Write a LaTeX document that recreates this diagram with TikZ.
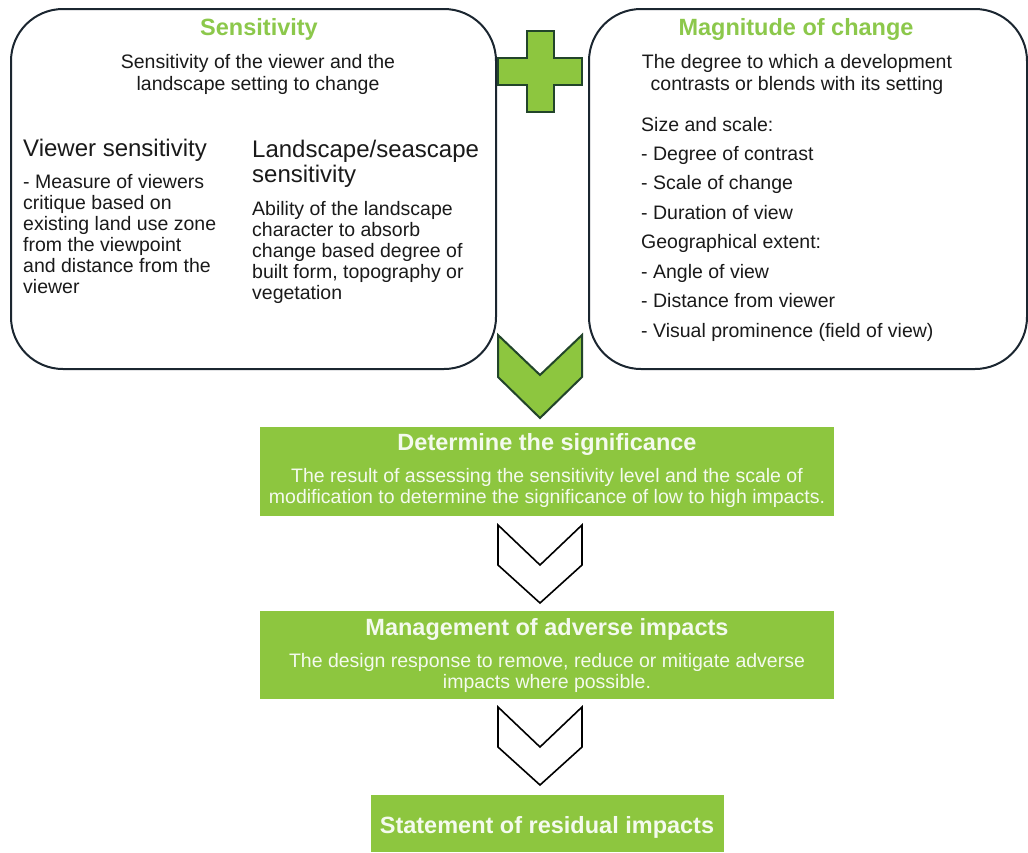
\documentclass[tikz,border=0pt]{standalone}
\usepackage{fontspec}
\setmainfont{Liberation Sans}
\definecolor{grn}{HTML}{8DC63F}
\definecolor{grntxt}{HTML}{8CC84B}
\definecolor{dkgrn}{HTML}{22452A}
\definecolor{edge}{HTML}{1B2630}
\definecolor{txt}{HTML}{1A1A1A}
\definecolor{wtxt}{HTML}{F4FAEE}
\tikzset{
 body/.style={font=\fontsize{19.5}{21}\selectfont, text=txt, inner sep=0pt},
 sub/.style={font=\fontsize{24}{26}\selectfont, text=txt, inner sep=0pt},
 gtitle/.style={font=\bfseries\fontsize{23.5}{25}\selectfont, text=grntxt, inner sep=0pt},
 wtitle/.style={font=\bfseries\fontsize{23.5}{25}\selectfont, text=wtxt, inner sep=0pt},
 wbody/.style={font=\fontsize{19.5}{21}\selectfont, text=wtxt, inner sep=0pt},
 panel/.style={draw=edge, line width=2pt, rounded corners=52pt, fill=white, inner sep=0pt},
 gbox/.style={fill=grn, draw=none, inner sep=0pt},
 gchev/.style={fill=grn, draw=dkgrn, line width=2pt, line join=miter},
 wchev/.style={fill=white, draw=black, line width=1.6pt, line join=miter},
}
\begin{document}
\begin{tikzpicture}[x=1pt,y=-1pt]
\useasboundingbox (0,0) rectangle (1028,852);
\fill[white] (0,0) rectangle (1028,852);

% panels
\node[panel, minimum width=485pt, minimum height=360pt, anchor=north west] (sens) at (10,8) {};
\node[panel, minimum width=438pt, minimum height=360pt, anchor=north west] (mag) at (588,8) {};

% plus sign
\draw[gchev] (527,31) -- (554,31) -- (554,58) -- (582,58) -- (582,85) -- (554,85) -- (554,112)
  -- (527,112) -- (527,85) -- (498,85) -- (498,58) -- (527,58) -- cycle;

% green chevron
\draw[gchev] (498,335) -- (540,375) -- (582,335) -- (582,377) -- (540,418) -- (498,377) -- cycle;

% green boxes
\node[gbox, minimum width=574pt, minimum height=89pt, anchor=north west] (det) at (260,427) {};
\node[gbox, minimum width=574pt, minimum height=88pt, anchor=north west] (man) at (260,611) {};
\node[gbox, minimum width=353pt, minimum height=57pt, anchor=north west] (sta) at (371,795) {};

% white chevrons
\draw[wchev] (498,525) -- (540,565) -- (582,525) -- (582,565) -- (540,603) -- (498,565) -- cycle;
\draw[wchev] (498,707) -- (540,747) -- (582,707) -- (582,747) -- (540,785) -- (498,747) -- cycle;

% Sensitivity panel text
\node[gtitle, anchor=base] (st) at (259,35) {Sensitivity};
\node[body, anchor=base] (s1) at (258,68) {Sensitivity of the viewer and the};
\node[body, anchor=base] (s2) at (258,90) {landscape setting to change};
\node[sub, anchor=base west] (vs) at (23,156) {Viewer sensitivity};
\node[body, anchor=base west] (v1) at (23,188) {- Measure of viewers};
\node[body, anchor=base west] (v2) at (23,209) {critique based on};
\node[body, anchor=base west] (v3) at (23,230) {existing land use zone};
\node[body, anchor=base west] (v4) at (23,251) {from the viewpoint};
\node[body, anchor=base west] (v5) at (23,272) {and distance from the};
\node[body, anchor=base west] (v6) at (23,293) {viewer};
\node[sub, anchor=base west] (ls1) at (252,157) {Landscape/seascape};
\node[sub, anchor=base west] (ls2) at (252,182) {sensitivity};
\node[body, anchor=base west] (a1) at (252,215) {Ability of the landscape};
\node[body, anchor=base west] (a2) at (252,236) {character to absorb};
\node[body, anchor=base west] (a3) at (252,257) {change based degree of};
\node[body, anchor=base west] (a4) at (252,278) {built form, topography or};
\node[body, anchor=base west] (a5) at (252,299) {vegetation};

% Magnitude panel text
\node[gtitle, anchor=base] (mt) at (796,35) {Magnitude of change};
\node[body, anchor=base] (m1) at (797,68) {The degree to which a development};
\node[body, anchor=base] (m2) at (797,90) {contrasts or blends with its setting};
\node[body, anchor=base west] (k1) at (641,131) {Size and scale:};
\node[body, anchor=base west] (k2) at (641,160) {- Degree of contrast};
\node[body, anchor=base west] (k3) at (641,189) {- Scale of change};
\node[body, anchor=base west] (k4) at (641,219) {- Duration of view};
\node[body, anchor=base west] (k5) at (641,248) {Geographical extent:};
\node[body, anchor=base west] (k6) at (641,278) {- Angle of view};
\node[body, anchor=base west] (k7) at (641,307) {- Distance from viewer};
\node[body, anchor=base west] (k8) at (641,337) {- Visual prominence (field of view)};

% green box text
\node[wtitle, anchor=base] (dt) at (547,450) {Determine the significance};
\node[wbody, anchor=base] (d1) at (547,482) {The result of assessing the sensitivity level and the scale of};
\node[wbody, anchor=base] (d2) at (547,503) {modification to determine the significance of low to high impacts.};
\node[wtitle, anchor=base] (mgt) at (547,635) {Management of adverse impacts};
\node[wbody, anchor=base] (g1) at (547,667) {The design response to remove, reduce or mitigate adverse};
\node[wbody, anchor=base] (g2) at (547,688) {impacts where possible.};
\node[wtitle, anchor=base] (stt) at (547,833) {Statement of residual impacts};
\end{tikzpicture}
\end{document}
